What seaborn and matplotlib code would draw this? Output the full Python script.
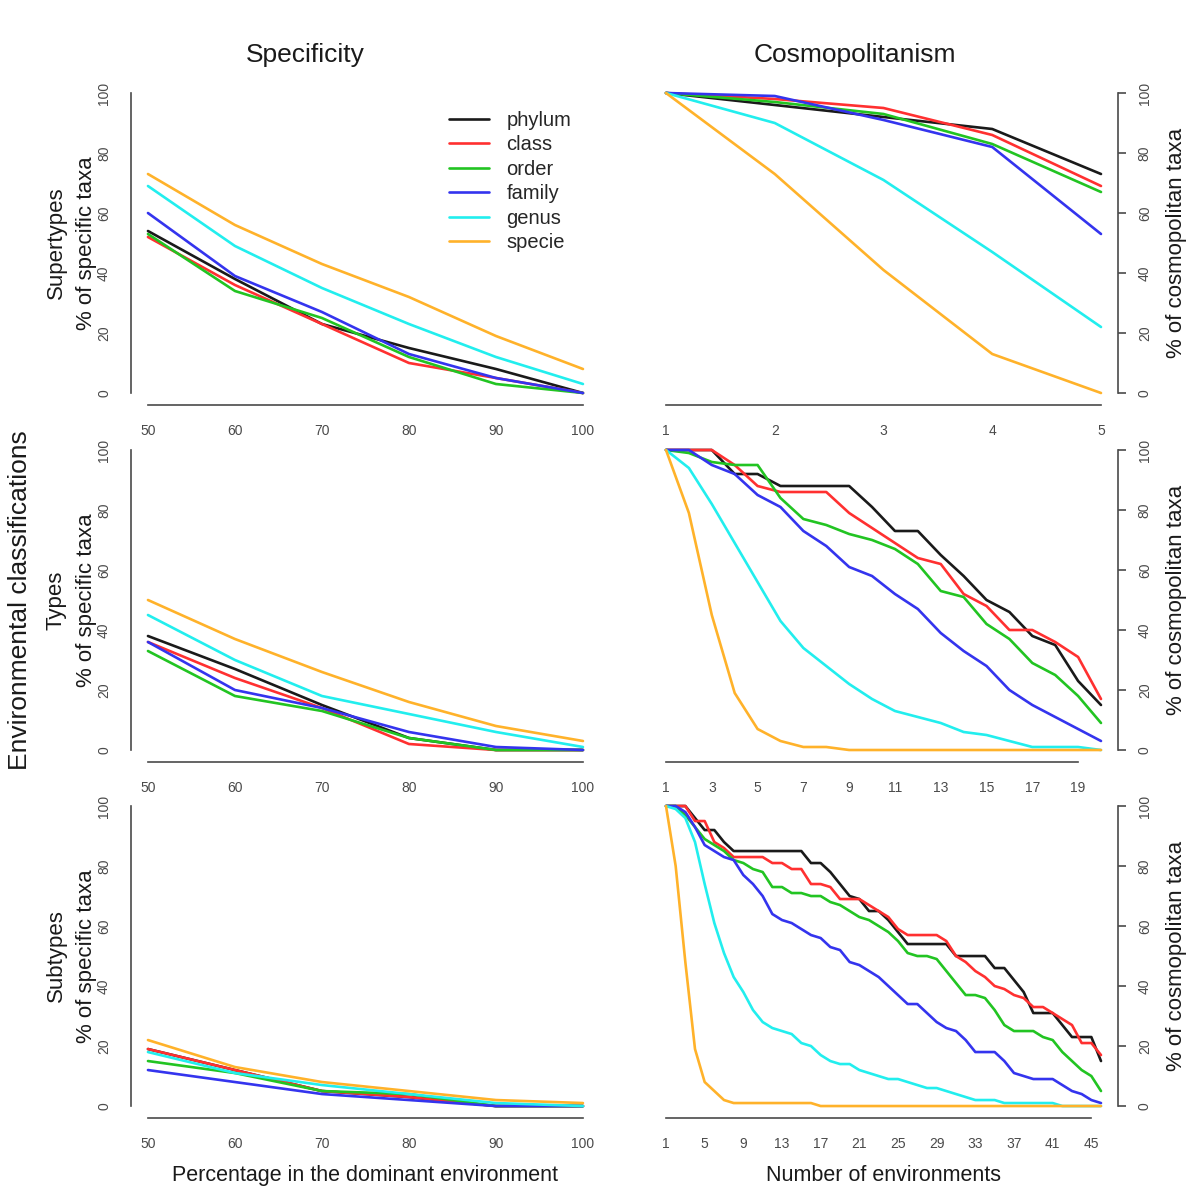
import pandas as pd
import matplotlib
matplotlib.use("Agg")
import matplotlib.pyplot as plt
import seaborn as sns

sns.set_style("white")
plt.rcParams['font.family'] = ['Liberation Sans', 'DejaVu Sans']

# --- data ---
ranks = ["phylum", "class", "order", "family", "genus", "specie"]
rank_colors = ["#1a1a1a", "#ff3030", "#22c422", "#3434ee", "#22eeee", "#ffb22a"]
row_names = ["Supertypes", "Types", "Subtypes"]

x_spec = [50, 60, 70, 80, 90, 100]

# % of specific taxa, one list per rank (phylum ... specie)
spec_supertypes = [
    [54, 38, 23, 15, 8, 0],
    [52, 36, 23, 10, 5, 0],
    [53, 34, 25, 12, 3, 0],
    [60, 39, 27, 13, 5, 0],
    [69, 49, 35, 23, 12, 3],
    [73, 56, 43, 32, 19, 8],
]
spec_types = [
    [38, 27, 15, 4, 0, 0],
    [36, 24, 14, 2, 0, 0],
    [33, 18, 13, 4, 0, 0],
    [36, 20, 14, 6, 1, 0],
    [45, 30, 18, 12, 6, 1],
    [50, 37, 26, 16, 8, 3],
]
spec_subtypes = [
    [19, 12, 5, 3, 0, 0],
    [19, 12, 5, 3, 0, 0],
    [15, 11, 5, 4, 0, 0],
    [12, 8, 4, 2, 0, 0],
    [18, 11, 7, 4, 1, 0],
    [22, 13, 8, 5, 2, 1],
]

# % of cosmopolitan taxa by number of environments
cos_supertypes = [
    [100, 96, 92, 88, 73],
    [100, 98, 95, 86, 69],
    [100, 97, 93, 83, 67],
    [100, 99, 91, 82, 53],
    [100, 90, 71, 47, 22],
    [100, 73, 41, 13, 0],
]
cos_types = [
    [100, 100, 100, 92, 92, 88, 88, 88, 88, 81, 73, 73, 65, 58, 50, 46, 38, 35, 23, 15],
    [100, 100, 100, 95, 88, 86, 86, 86, 79, 74, 69, 64, 62, 52, 48, 40, 40, 36, 31, 17],
    [100, 99, 96, 95, 95, 84, 77, 75, 72, 70, 67, 62, 53, 51, 42, 37, 29, 25, 18, 9],
    [100, 100, 95, 92, 85, 81, 73, 68, 61, 58, 52, 47, 39, 33, 28, 20, 15, 11, 7, 3],
    [100, 94, 82, 69, 56, 43, 34, 28, 22, 17, 13, 11, 9, 6, 5, 3, 1, 1, 1, 0],
    [100, 79, 45, 19, 7, 3, 1, 1, 0, 0, 0, 0, 0, 0, 0, 0, 0, 0, 0, 0],
]
cos_subtypes = [
    [100, 100, 100, 96, 92, 92, 88, 85, 85, 85, 85, 85, 85, 85, 85, 81, 81, 78, 74, 70,
     69, 65, 65, 62, 58, 54, 54, 54, 54, 54, 50, 50, 50, 50, 46, 46, 42, 38, 31, 31,
     31, 27, 23, 23, 23, 15],
    [100, 100, 100, 95, 95, 88, 86, 83, 83, 83, 83, 81, 81, 79, 79, 74, 74, 73, 69, 69,
     69, 67, 65, 63, 59, 57, 57, 57, 57, 55, 50, 48, 45, 43, 40, 39, 37, 36, 33, 33,
     31, 29, 27, 21, 21, 17],
    [100, 100, 97, 93, 89, 87, 85, 82, 81, 79, 78, 73, 73, 71, 71, 70, 70, 68, 67, 65,
     63, 62, 60, 58, 55, 51, 50, 50, 49, 45, 41, 37, 37, 36, 32, 27, 25, 25, 25, 23,
     22, 18, 15, 12, 10, 5],
    [100, 100, 98, 93, 87, 85, 83, 82, 77, 74, 70, 64, 62, 61, 59, 57, 56, 53, 52, 48,
     47, 45, 43, 40, 37, 34, 34, 31, 28, 26, 25, 22, 18, 18, 18, 15, 11, 10, 9, 9,
     9, 7, 5, 4, 2, 1],
    [100, 99, 96, 88, 74, 61, 51, 43, 38, 32, 28, 26, 25, 24, 21, 20, 17, 15, 14, 14,
     12, 11, 10, 9, 9, 8, 7, 6, 6, 5, 4, 3, 2, 2, 2, 1, 1, 1, 1, 1,
     1, 0, 0, 0, 0, 0],
    [100, 80, 48, 19, 8, 5, 2, 1, 1, 1, 1, 1, 1, 1, 1, 1, 0, 0, 0, 0,
     0, 0, 0, 0, 0, 0, 0, 0, 0, 0, 0, 0, 0, 0, 0, 0, 0, 0, 0, 0,
     0, 0, 0, 0, 0, 0],
]

cos_xticks = [[1, 2, 3, 4, 5], list(range(1, 20, 2)), list(range(1, 46, 4))]

palette = dict(zip(ranks, rank_colors))
grey = "#4a4a4a"


def to_long(xs, series):
    rows = []
    for rank, ys in zip(ranks, series):
        for x, y in zip(xs, ys):
            rows.append({"x": x, "pct": y, "rank": rank})
    return pd.DataFrame(rows)


def style_axis(ax, xs, xticks, side):
    pad = 0.04 * (xs[-1] - xs[0])
    ax.set_xlim(xs[0] - pad, xs[-1] + pad)
    ax.set_ylim(-4, 104)
    ax.set_xticks(xticks)
    ax.set_yticks([0, 20, 40, 60, 80, 100])
    for s in ax.spines.values():
        s.set_visible(False)
    ax.spines["bottom"].set_visible(True)
    ax.spines["bottom"].set_bounds(xticks[0], xticks[-1])
    ax.spines[side].set_visible(True)
    ax.spines[side].set_bounds(0, 100)
    for s in ("bottom", side):
        ax.spines[s].set_color(grey)
        ax.spines[s].set_linewidth(1.2)
    if side == "right":
        ax.yaxis.tick_right()
        ax.yaxis.set_label_position("right")
    ax.tick_params(axis="both", direction="out", length=6, width=1.2, color=grey,
                   labelcolor=grey, labelsize=10, pad=8)
    ax.tick_params(axis="y", labelrotation=90)
    for lab in ax.get_yticklabels():
        lab.set_va("center")
    ax.set_xlabel("")
    ax.set_ylabel("")


fig = plt.figure(figsize=(12, 12), dpi=100)

spec_data = [spec_supertypes, spec_types, spec_subtypes]
cos_data = [cos_supertypes, cos_types, cos_subtypes]
bottoms = [0.6625, 0.365, 0.0683]
w, h = 0.3915, 0.27

for i in range(3):
    # left: specificity
    axl = fig.add_axes([0.1088, bottoms[i], w, h])
    sns.lineplot(data=to_long(x_spec, spec_data[i]), x="x", y="pct", hue="rank",
                 hue_order=ranks, palette=palette, linewidth=1.9, estimator=None,
                 legend=(i == 0), ax=axl)
    style_axis(axl, x_spec, x_spec, "left")
    axl.set_ylabel(row_names[i] + "\n% of specific taxa", fontsize=16, linespacing=1.55,
                   color="#1a1a1a")
    axl.yaxis.set_label_coords(-0.072, 0.5)

    # right: cosmopolitanism
    n_env = len(cos_data[i][0])
    x_cos = list(range(1, n_env + 1))
    axr = fig.add_axes([0.5405, bottoms[i], w, h])
    sns.lineplot(data=to_long(x_cos, cos_data[i]), x="x", y="pct", hue="rank",
                 hue_order=ranks, palette=palette, linewidth=1.9, estimator=None,
                 legend=False, ax=axr)
    style_axis(axr, x_cos, cos_xticks[i], "right")
    axr.set_ylabel("% of cosmopolitan taxa", fontsize=16, color="#1a1a1a")
    axr.yaxis.set_label_coords(1.102, 0.5)

    if i == 0:
        axl.legend(loc="upper left", bbox_to_anchor=(449 / 1200, 1 - 111 / 1200),
                   bbox_transform=fig.transFigure, frameon=False, fontsize=14.5,
                   handlelength=2.0, handletextpad=0.85, labelspacing=0.27,
                   borderpad=0, borderaxespad=0)
    if i == 2:
        axl.set_xlabel("Percentage in the dominant environment", fontsize=15.5,
                       color="#1a1a1a", labelpad=10)
        axr.set_xlabel("Number of environments", fontsize=15.5,
                       color="#1a1a1a", labelpad=10)

fig.text(305 / 1200, 1 - 55 / 1200, "Specificity", fontsize=19, ha="center", va="center",
         color="#1a1a1a")
fig.text(855 / 1200, 1 - 55 / 1200, "Cosmopolitanism", fontsize=19, ha="center", va="center",
         color="#1a1a1a")
fig.text(20 / 1200, 0.5, "Environmental classifications", fontsize=19, rotation=90,
         ha="center", va="center", color="#1a1a1a")

plt.savefig("out.png", dpi=100)
